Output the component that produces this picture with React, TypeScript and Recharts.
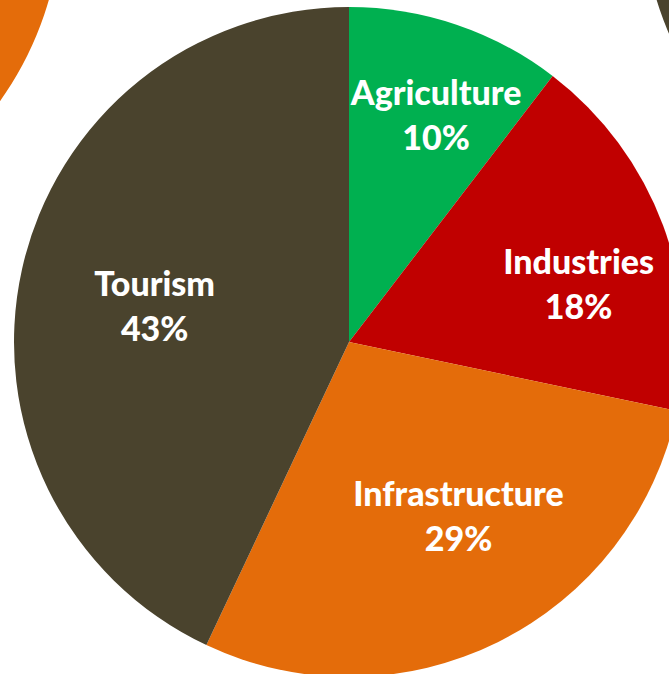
import { PieChart, Pie, Cell } from "recharts";

// sectors of the investment split (shares)
const sectors = ["Agriculture", "Industries", "Infrastructure", "Tourism"];
const shares = [10.4, 17.9, 28.7, 43];
const sectorColors = ["#00B050", "#C00000", "#E46C0A", "#4A432D"];

// neighbouring circles that peek in at the corners
const leftNeighbour = [{ name: "left", value: 1 }];
const rightNeighbour = [{ name: "right", value: 1 }];

const data = sectors.map((s, i) => ({ name: s, value: shares[i] }));

const RAD = Math.PI / 180;
// Excel-style best-fit placement: small shifts from the radial point
const labelShift = [
  [14, -10],
  [16, 22],
  [8, -29],
  [28, 15],
];

function SliceLabel(props: any) {
  const { cx, cy, midAngle, outerRadius, percent, name, index } = props;
  const r = outerRadius * 0.68;
  const x = cx + r * Math.cos(-midAngle * RAD) + labelShift[index][0];
  const y = cy + r * Math.sin(-midAngle * RAD) + labelShift[index][1];
  return (
    <text
      x={x}
      y={y}
      fill="#FFFFFF"
      textAnchor="middle"
      fontFamily="Lato, sans-serif"
      fontWeight={900}
      fontSize={34}
    >
      <tspan x={x} dy={-11}>
        {name}
      </tspan>
      <tspan x={x} dy={45}>
        {`${Math.round(percent * 100)}%`}
      </tspan>
    </text>
  );
}

export default function App() {
  return (
    <div style={{ position: "absolute", left: 0, top: 0, background: "#fff" }}>
      <PieChart width={669} height={674} margin={{ top: 0, right: 0, bottom: 0, left: 0 }}>
        <Pie
          data={leftNeighbour}
          dataKey="value"
          cx={-273}
          cy={-93}
          outerRadius={335}
          fill="#E46C0A"
          stroke="none"
          isAnimationActive={false}
        />
        <Pie
          data={rightNeighbour}
          dataKey="value"
          cx={977}
          cy={-98}
          outerRadius={335}
          fill="#4A432D"
          stroke="none"
          isAnimationActive={false}
        />
        <Pie
          data={data}
          dataKey="value"
          nameKey="name"
          cx={349}
          cy={342}
          outerRadius={335}
          startAngle={90}
          endAngle={-270}
          stroke="none"
          labelLine={false}
          label={SliceLabel}
          isAnimationActive={false}
        >
          {data.map((d, i) => (
            <Cell key={d.name} fill={sectorColors[i]} />
          ))}
        </Pie>
      </PieChart>
    </div>
  );
}
